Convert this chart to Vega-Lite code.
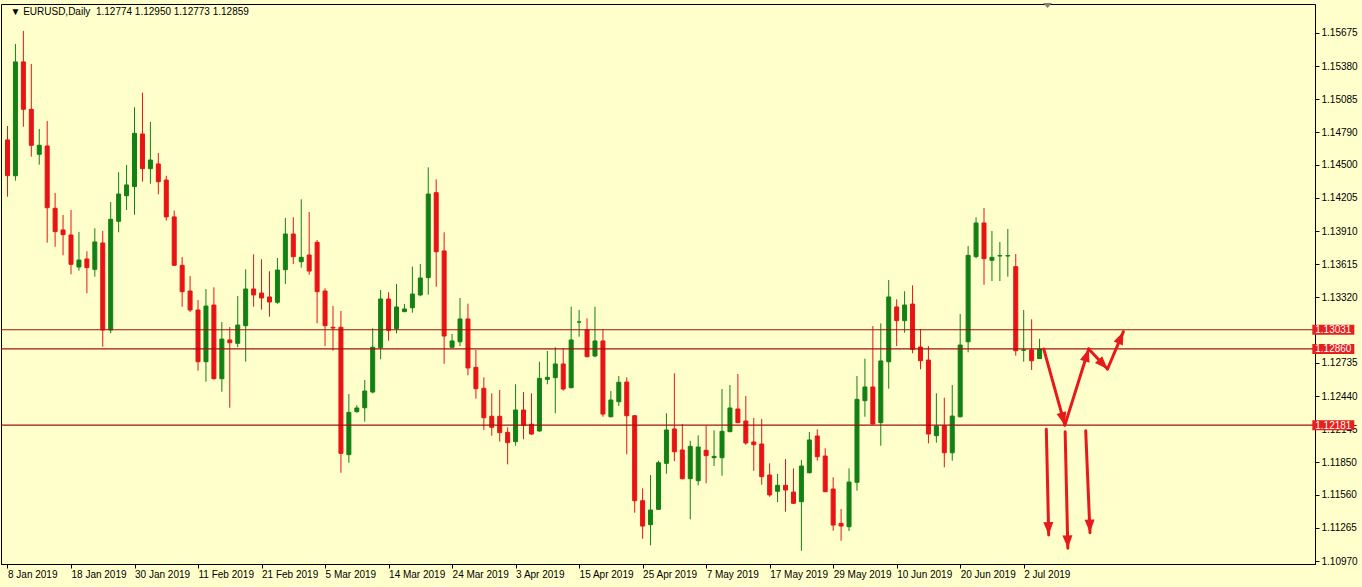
{
  "$schema": "https://vega.github.io/schema/vega-lite/v6.json",
  "width": 1314,
  "height": 560,
  "autosize": {"type": "none"},
  "padding": {"left": 1, "top": 4, "right": 47, "bottom": 23},
  "background": "#ffffcc",
  "datasets": {
    "bars": [
      {"n":0,"o":1.14722,"h":1.14846,"l":1.14216,"c":1.14404},
      {"n":1,"o":1.14403,"h":1.15577,"l":1.14359,"c":1.15417},
      {"n":2,"o":1.15417,"h":1.15693,"l":1.14840,"c":1.14995},
      {"n":3,"o":1.14995,"h":1.15399,"l":1.14573,"c":1.14674},
      {"n":4,"o":1.14594,"h":1.14820,"l":1.14502,"c":1.14674},
      {"n":5,"o":1.14668,"h":1.14891,"l":1.13807,"c":1.14118},
      {"n":6,"o":1.14113,"h":1.14249,"l":1.13771,"c":1.13905},
      {"n":7,"o":1.13920,"h":1.14053,"l":1.13694,"c":1.13878},
      {"n":8,"o":1.13875,"h":1.14098,"l":1.13525,"c":1.13614},
      {"n":9,"o":1.13590,"h":1.13902,"l":1.13557,"c":1.13652},
      {"n":10,"o":1.13661,"h":1.13730,"l":1.13356,"c":1.13584},
      {"n":11,"o":1.13569,"h":1.13935,"l":1.13504,"c":1.13813},
      {"n":12,"o":1.13804,"h":1.13911,"l":1.12880,"c":1.13029},
      {"n":13,"o":1.13029,"h":1.14169,"l":1.12999,"c":1.14015},
      {"n":14,"o":1.13997,"h":1.14434,"l":1.13899,"c":1.14240},
      {"n":15,"o":1.14225,"h":1.14499,"l":1.14098,"c":1.14321},
      {"n":16,"o":1.14306,"h":1.15013,"l":1.14056,"c":1.14781},
      {"n":17,"o":1.14775,"h":1.15143,"l":1.14350,"c":1.14466},
      {"n":18,"o":1.14466,"h":1.14882,"l":1.14332,"c":1.14543},
      {"n":19,"o":1.14508,"h":1.14606,"l":1.14238,"c":1.14350},
      {"n":20,"o":1.14365,"h":1.14403,"l":1.14003,"c":1.14036},
      {"n":21,"o":1.14036,"h":1.14092,"l":1.13599,"c":1.13605},
      {"n":22,"o":1.13605,"h":1.13679,"l":1.13236,"c":1.13370},
      {"n":23,"o":1.13376,"h":1.13510,"l":1.13189,"c":1.13207},
      {"n":24,"o":1.13207,"h":1.13296,"l":1.12666,"c":1.12746},
      {"n":25,"o":1.12746,"h":1.13394,"l":1.12568,"c":1.13242},
      {"n":26,"o":1.13251,"h":1.13409,"l":1.12588,"c":1.12595},
      {"n":27,"o":1.12595,"h":1.13100,"l":1.12479,"c":1.12948},
      {"n":28,"o":1.12940,"h":1.13055,"l":1.12336,"c":1.12915},
      {"n":29,"o":1.12910,"h":1.13332,"l":1.12875,"c":1.13073},
      {"n":30,"o":1.13067,"h":1.13569,"l":1.12746,"c":1.13394},
      {"n":31,"o":1.13394,"h":1.13703,"l":1.13236,"c":1.13341},
      {"n":32,"o":1.13358,"h":1.13659,"l":1.13210,"c":1.13314},
      {"n":33,"o":1.13323,"h":1.13552,"l":1.13147,"c":1.13278},
      {"n":34,"o":1.13276,"h":1.13670,"l":1.13262,"c":1.13563},
      {"n":35,"o":1.13566,"h":1.14027,"l":1.13439,"c":1.13884},
      {"n":36,"o":1.13884,"h":1.14033,"l":1.13617,"c":1.13682},
      {"n":37,"o":1.13637,"h":1.14193,"l":1.13584,"c":1.13676},
      {"n":38,"o":1.13697,"h":1.14080,"l":1.13521,"c":1.13554},
      {"n":39,"o":1.13810,"h":1.13830,"l":1.13088,"c":1.13370},
      {"n":40,"o":1.13376,"h":1.13400,"l":1.12886,"c":1.13067},
      {"n":41,"o":1.13053,"h":1.13242,"l":1.12844,"c":1.13046},
      {"n":42,"o":1.13053,"h":1.13198,"l":1.11757,"c":1.11930},
      {"n":43,"o":1.11918,"h":1.12458,"l":1.11846,"c":1.12295},
      {"n":44,"o":1.12301,"h":1.12358,"l":1.12292,"c":1.12334},
      {"n":45,"o":1.12336,"h":1.12583,"l":1.12212,"c":1.12485},
      {"n":46,"o":1.12476,"h":1.13044,"l":1.12465,"c":1.12875},
      {"n":47,"o":1.12871,"h":1.13385,"l":1.12768,"c":1.13305},
      {"n":48,"o":1.13305,"h":1.13365,"l":1.12933,"c":1.13026},
      {"n":49,"o":1.13040,"h":1.13439,"l":1.12999,"c":1.13234},
      {"n":50,"o":1.13192,"h":1.13260,"l":1.13188,"c":1.13216},
      {"n":51,"o":1.13227,"h":1.13593,"l":1.13183,"c":1.13349},
      {"n":52,"o":1.13341,"h":1.13617,"l":1.13329,"c":1.13492},
      {"n":53,"o":1.13495,"h":1.14478,"l":1.13343,"c":1.14240},
      {"n":54,"o":1.14252,"h":1.14371,"l":1.13414,"c":1.13726},
      {"n":55,"o":1.13733,"h":1.13899,"l":1.12728,"c":1.12975},
      {"n":56,"o":1.12875,"h":1.12993,"l":1.12868,"c":1.12931},
      {"n":57,"o":1.12924,"h":1.13314,"l":1.12886,"c":1.13127},
      {"n":58,"o":1.13127,"h":1.13263,"l":1.12625,"c":1.12690},
      {"n":59,"o":1.12696,"h":1.12851,"l":1.12417,"c":1.12506},
      {"n":60,"o":1.12509,"h":1.12607,"l":1.12138,"c":1.12247},
      {"n":61,"o":1.12260,"h":1.12465,"l":1.12087,"c":1.12162},
      {"n":62,"o":1.12260,"h":1.12494,"l":1.12034,"c":1.12114},
      {"n":63,"o":1.12117,"h":1.12162,"l":1.11832,"c":1.12025},
      {"n":64,"o":1.12034,"h":1.12545,"l":1.11998,"c":1.12316},
      {"n":65,"o":1.12316,"h":1.12476,"l":1.12055,"c":1.12180},
      {"n":66,"o":1.12189,"h":1.12465,"l":1.12093,"c":1.12102},
      {"n":67,"o":1.12129,"h":1.12746,"l":1.12123,"c":1.12598},
      {"n":68,"o":1.12589,"h":1.12842,"l":1.12545,"c":1.12607},
      {"n":69,"o":1.12604,"h":1.12875,"l":1.12287,"c":1.12726},
      {"n":70,"o":1.12726,"h":1.12866,"l":1.12488,"c":1.12503},
      {"n":71,"o":1.12515,"h":1.13236,"l":1.12509,"c":1.12940},
      {"n":72,"o":1.13100,"h":1.13207,"l":1.12969,"c":1.13100},
      {"n":73,"o":1.13029,"h":1.13133,"l":1.12786,"c":1.12791},
      {"n":74,"o":1.12797,"h":1.13236,"l":1.12786,"c":1.12931},
      {"n":75,"o":1.12931,"h":1.13035,"l":1.12256,"c":1.12280},
      {"n":76,"o":1.12256,"h":1.12485,"l":1.12250,"c":1.12405},
      {"n":77,"o":1.12390,"h":1.12619,"l":1.12352,"c":1.12563},
      {"n":78,"o":1.12565,"h":1.12607,"l":1.11921,"c":1.12265},
      {"n":79,"o":1.12265,"h":1.12270,"l":1.11401,"c":1.11508},
      {"n":80,"o":1.11508,"h":1.11618,"l":1.11169,"c":1.11282},
      {"n":81,"o":1.11294,"h":1.11737,"l":1.11110,"c":1.11425},
      {"n":82,"o":1.11431,"h":1.11864,"l":1.11425,"c":1.11846},
      {"n":83,"o":1.11841,"h":1.12287,"l":1.11748,"c":1.12138},
      {"n":84,"o":1.12147,"h":1.12643,"l":1.11861,"c":1.11944},
      {"n":85,"o":1.11960,"h":1.12191,"l":1.11698,"c":1.11704},
      {"n":86,"o":1.11704,"h":1.12042,"l":1.11342,"c":1.11992},
      {"n":87,"o":1.11686,"h":1.12090,"l":1.11645,"c":1.11986},
      {"n":88,"o":1.11957,"h":1.12176,"l":1.11663,"c":1.11909},
      {"n":89,"o":1.11891,"h":1.12135,"l":1.11817,"c":1.11903},
      {"n":90,"o":1.11891,"h":1.12503,"l":1.11730,"c":1.12126},
      {"n":91,"o":1.12123,"h":1.12539,"l":1.12118,"c":1.12334},
      {"n":92,"o":1.12325,"h":1.12637,"l":1.12200,"c":1.12203},
      {"n":93,"o":1.12218,"h":1.12441,"l":1.12007,"c":1.12022},
      {"n":94,"o":1.12031,"h":1.12245,"l":1.11775,"c":1.12007},
      {"n":95,"o":1.12013,"h":1.12236,"l":1.11650,"c":1.11722},
      {"n":96,"o":1.11737,"h":1.11841,"l":1.11543,"c":1.11559},
      {"n":97,"o":1.11592,"h":1.11746,"l":1.11496,"c":1.11645},
      {"n":98,"o":1.11645,"h":1.11879,"l":1.11410,"c":1.11603},
      {"n":99,"o":1.11585,"h":1.11796,"l":1.11478,"c":1.11485},
      {"n":100,"o":1.11499,"h":1.11870,"l":1.11062,"c":1.11817},
      {"n":101,"o":1.11757,"h":1.12120,"l":1.11752,"c":1.12049},
      {"n":102,"o":1.12084,"h":1.12144,"l":1.11864,"c":1.11900},
      {"n":103,"o":1.11906,"h":1.11975,"l":1.11585,"c":1.11588},
      {"n":104,"o":1.11612,"h":1.11716,"l":1.11241,"c":1.11291},
      {"n":105,"o":1.11306,"h":1.11434,"l":1.11151,"c":1.11282},
      {"n":106,"o":1.11276,"h":1.11796,"l":1.11238,"c":1.11674},
      {"n":107,"o":1.11672,"h":1.12619,"l":1.11597,"c":1.12411},
      {"n":108,"o":1.12399,"h":1.12773,"l":1.12256,"c":1.12521},
      {"n":109,"o":1.12521,"h":1.13064,"l":1.12188,"c":1.12191},
      {"n":110,"o":1.12203,"h":1.13088,"l":1.11998,"c":1.12753},
      {"n":111,"o":1.12746,"h":1.13474,"l":1.12506,"c":1.13323},
      {"n":112,"o":1.13234,"h":1.13302,"l":1.12886,"c":1.13112},
      {"n":113,"o":1.13112,"h":1.13374,"l":1.13005,"c":1.13251},
      {"n":114,"o":1.13260,"h":1.13427,"l":1.12821,"c":1.12857},
      {"n":115,"o":1.12877,"h":1.13038,"l":1.12679,"c":1.12755},
      {"n":116,"o":1.12761,"h":1.12886,"l":1.12019,"c":1.12102},
      {"n":117,"o":1.12087,"h":1.12465,"l":1.12025,"c":1.12173},
      {"n":118,"o":1.12176,"h":1.12426,"l":1.11805,"c":1.11935},
      {"n":119,"o":1.11935,"h":1.12539,"l":1.11864,"c":1.12262},
      {"n":120,"o":1.12256,"h":1.13171,"l":1.12250,"c":1.12895},
      {"n":121,"o":1.12924,"h":1.13777,"l":1.12830,"c":1.13694},
      {"n":122,"o":1.13682,"h":1.14033,"l":1.13668,"c":1.13982},
      {"n":123,"o":1.13982,"h":1.14116,"l":1.13432,"c":1.13664},
      {"n":124,"o":1.13650,"h":1.13911,"l":1.13465,"c":1.13676},
      {"n":125,"o":1.13688,"h":1.13813,"l":1.13465,"c":1.13691},
      {"n":126,"o":1.13688,"h":1.13929,"l":1.13504,"c":1.13691},
      {"n":127,"o":1.13593,"h":1.13706,"l":1.12800,"c":1.12844},
      {"n":128,"o":1.12848,"h":1.13207,"l":1.12746,"c":1.12851},
      {"n":129,"o":1.12851,"h":1.13124,"l":1.12672,"c":1.12755},
      {"n":130,"o":1.12774,"h":1.12950,"l":1.12773,"c":1.12859}
    ],
    "levels": [
      {"level": 1.13031},
      {"level": 1.12860},
      {"level": 1.12181}
    ],
    "arrows": [
      {"id":"A1","x1":130.53,"p1":1.12859,"x2":133.19,"p2":1.12181},
      {"id":"A2","x1":133.19,"p1":1.12181,"x2":136.19,"p2":1.12860},
      {"id":"A3","x1":136.19,"p1":1.12860,"x2":138.56,"p2":1.12681},
      {"id":"A4","x1":138.56,"p1":1.12681,"x2":140.56,"p2":1.13014},
      {"id":"V1","x1":130.85,"p1":1.12144,"x2":131.15,"p2":1.11202},
      {"id":"V2","x1":133.22,"p1":1.12123,"x2":133.56,"p2":1.11084},
      {"id":"V3","x1":135.81,"p1":1.12131,"x2":136.35,"p2":1.11223}
    ],
    "header": [
      {"label": "▼ EURUSD,Daily\u00a0 1.12774 1.12950 1.12773 1.12859"}
    ]
  },
  "layer": [
    {
      "data": {"name": "bars"},
      "mark": {"type": "rule", "strokeWidth": 1},
      "encoding": {
        "x": {
          "field": "n", "type": "quantitative", "title": null,
          "scale": {"domain": [-0.1875, 164.0625], "nice": false, "zero": false},
          "axis": {
            "orient": "bottom",
            "values": [0, 8, 16, 24, 32, 40, 48, 56, 64, 72, 80, 88, 96, 104, 112, 120, 128],
            "tickCount": 40,
            "labelExpr": "['8 Jan 2019','18 Jan 2019','30 Jan 2019','11 Feb 2019','21 Feb 2019','5 Mar 2019','14 Mar 2019','24 Mar 2019','3 Apr 2019','15 Apr 2019','25 Apr 2019','7 May 2019','17 May 2019','29 May 2019','10 Jun 2019','20 Jun 2019','2 Jul 2019'][round(datum.value / 8)]",
            "labelAlign": "left",
            "labelBaseline": "top",
            "labelPadding": 1,
            "labelFlush": false,
            "labelOverlap": false,
            "tickSize": 4,
            "grid": false,
            "title": null
          }
        },
        "y": {
          "field": "l", "type": "quantitative", "title": null,
          "scale": {"domain": [1.10944, 1.15933], "nice": false, "zero": false},
          "axis": {
            "orient": "right",
            "values": [1.15675, 1.15380, 1.15085, 1.14790, 1.14500, 1.14205, 1.13910, 1.13615, 1.13320, 1.12735, 1.12440, 1.12145, 1.11850, 1.11560, 1.11265, 1.10970],
            "tickCount": 40,
            "format": ".5f",
            "labelAlign": "left",
            "labelBaseline": "middle",
            "labelPadding": 2,
            "labelOverlap": false,
            "labelFlush": false,
            "tickSize": 4,
            "grid": false,
            "title": null,
            "zindex": 0
          }
        },
        "y2": {"field": "h"},
        "color": {"condition": {"test": "datum.c >= datum.o", "value": "#138013"}, "value": "#e81414"}
      }
    },
    {
      "data": {"name": "bars"},
      "mark": {"type": "bar", "orient": "vertical", "width": 4, "strokeWidth": 1},
      "encoding": {
        "x": {"field": "n", "type": "quantitative", "title": null},
        "y": {"field": "o", "type": "quantitative", "title": null},
        "y2": {"field": "c"},
        "fill": {"condition": {"test": "datum.c >= datum.o", "value": "#138013"}, "value": "#e81414"},
        "stroke": {"condition": {"test": "datum.c >= datum.o", "value": "#138013"}, "value": "#e81414"}
      }
    },
    {
      "data": {"name": "levels"},
      "mark": {"type": "rule", "color": "#a01212", "strokeWidth": 1.2},
      "encoding": {
        "y": {"field": "level", "type": "quantitative", "title": null}
      }
    },
    {
      "data": {"name": "arrows"},
      "mark": {"type": "rule", "color": "#e8191a", "strokeWidth": 3, "strokeCap": "round"},
      "encoding": {
        "x": {"field": "x1", "type": "quantitative", "title": null},
        "x2": {"field": "x2"},
        "y": {"field": "p1", "type": "quantitative", "title": null},
        "y2": {"field": "p2"}
      }
    },
    {
      "data": {"name": "arrows"},
      "transform": [{"filter": "datum.id == 'A1'"}],
      "mark": {"type": "point", "shape": "M0,0L1,2.6L-1,2.6Z", "size": 100, "filled": true, "color": "#e8191a", "opacity": 1, "strokeWidth": 0, "angle": 164.4},
      "encoding": {
        "x": {"field": "x2", "type": "quantitative", "title": null},
        "y": {"field": "p2", "type": "quantitative", "title": null}
      }
    },
    {
      "data": {"name": "arrows"},
      "transform": [{"filter": "datum.id == 'A2'"}],
      "mark": {"type": "point", "shape": "M0,0L1,2.6L-1,2.6Z", "size": 100, "filled": true, "color": "#e8191a", "opacity": 1, "strokeWidth": 0, "angle": 17.5},
      "encoding": {
        "x": {"field": "x2", "type": "quantitative", "title": null},
        "y": {"field": "p2", "type": "quantitative", "title": null}
      }
    },
    {
      "data": {"name": "arrows"},
      "transform": [{"filter": "datum.id == 'A3'"}],
      "mark": {"type": "point", "shape": "M0,0L1,2.6L-1,2.6Z", "size": 100, "filled": true, "color": "#e8191a", "opacity": 1, "strokeWidth": 0, "angle": 136.5},
      "encoding": {
        "x": {"field": "x2", "type": "quantitative", "title": null},
        "y": {"field": "p2", "type": "quantitative", "title": null}
      }
    },
    {
      "data": {"name": "arrows"},
      "transform": [{"filter": "datum.id == 'A4'"}],
      "mark": {"type": "point", "shape": "M0,0L1,2.6L-1,2.6Z", "size": 100, "filled": true, "color": "#e8191a", "opacity": 1, "strokeWidth": 0, "angle": 23.4},
      "encoding": {
        "x": {"field": "x2", "type": "quantitative", "title": null},
        "y": {"field": "p2", "type": "quantitative", "title": null}
      }
    },
    {
      "data": {"name": "arrows"},
      "transform": [{"filter": "datum.id == 'V1' || datum.id == 'V2' || datum.id == 'V3'"}],
      "mark": {"type": "point", "shape": "M0,0L1,2.6L-1,2.6Z", "size": 100, "filled": true, "color": "#e8191a", "opacity": 1, "strokeWidth": 0, "angle": 178.3},
      "encoding": {
        "x": {"field": "x2", "type": "quantitative", "title": null},
        "y": {"field": "p2", "type": "quantitative", "title": null}
      }
    },
    {
      "data": {"name": "levels"},
      "mark": {"type": "tick", "orient": "horizontal", "size": 42, "thickness": 10, "color": "#e6201c", "opacity": 1},
      "encoding": {
        "x": {"datum": 167, "title": null},
        "y": {"field": "level", "type": "quantitative", "title": null}
      }
    },
    {
      "data": {"name": "levels"},
      "mark": {"type": "text", "color": "#ffffff", "font": "Liberation Sans, Arial, sans-serif", "fontSize": 10, "align": "center", "baseline": "middle", "dy": 0.5},
      "encoding": {
        "x": {"datum": 167, "title": null},
        "y": {"field": "level", "type": "quantitative", "title": null},
        "text": {"field": "level", "type": "quantitative", "format": ".5f"}
      }
    },
    {
      "data": {"name": "header"},
      "mark": {"type": "text", "color": "#000000", "font": "Liberation Sans, Arial, sans-serif", "fontSize": 10, "align": "left", "baseline": "alphabetic"},
      "encoding": {
        "x": {"datum": 0.375, "title": null},
        "y": {"datum": 1.15835, "title": null},
        "text": {"field": "label"}
      }
    },
    {
      "data": {"values": [{"marker": "shift"}]},
      "mark": {"type": "point", "shape": "M-1,-0.55L1,-0.55L0,0.55Z", "size": 81, "filled": true, "color": "#808080", "opacity": 1, "strokeWidth": 0},
      "encoding": {
        "x": {"datum": 131, "title": null},
        "y": {"datum": 1.1592, "title": null}
      }
    }
  ],
  "config": {
    "view": {"stroke": "#000000", "strokeWidth": 1},
    "axis": {
      "labelFont": "Liberation Sans, Arial, sans-serif",
      "labelFontSize": 10,
      "labelColor": "#000000",
      "domainColor": "#000000",
      "tickColor": "#000000",
      "labelOverlap": false,
      "grid": false
    }
  }
}
